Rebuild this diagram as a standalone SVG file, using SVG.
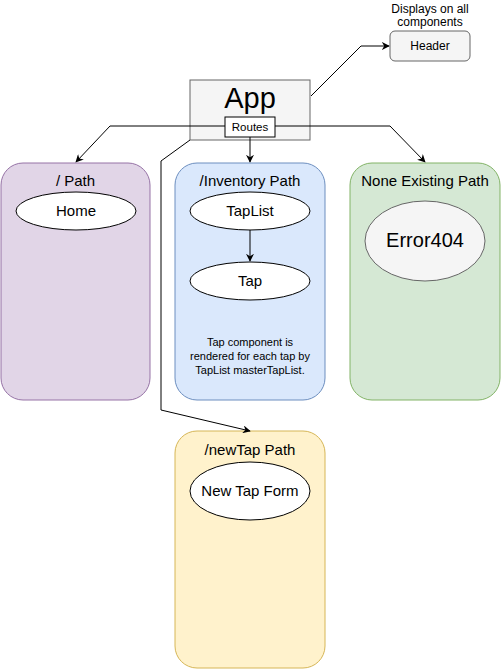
<svg xmlns="http://www.w3.org/2000/svg" width="501" height="670" viewBox="0 0 501 670">
<style>
text{font-family:"Liberation Sans",Arial,sans-serif;fill:#000;text-anchor:middle}
.conn{fill:none;stroke:#000;stroke-width:1}
.ell{fill:#fff;stroke:#000;stroke-width:1}
.t15{font-size:15px}
.t11{font-size:11px}
.t12{font-size:12px}
</style>
<defs>
<marker id="arr" viewBox="0 0 10 10" refX="9" refY="5" markerWidth="8" markerHeight="8" markerUnits="userSpaceOnUse" orient="auto">
<path d="M0,0 L10,5 L0,10 L3,5 z" fill="#000"/>
</marker>
</defs>
<rect width="501" height="670" fill="#fff"/>

<g id="path-root">
<rect x="1" y="163" width="149" height="237" rx="22" fill="#e1d5e7" stroke="#9673a6"/>
<text x="75.5" y="186" class="t15">/ Path</text>
</g>
<g id="home">
<ellipse cx="76" cy="211" rx="60" ry="19" class="ell"/>
<text x="76" y="216" class="t15">Home</text>
</g>

<g id="path-inventory">
<rect x="175" y="163" width="150" height="237" rx="22" fill="#dae8fc" stroke="#6c8ebf"/>
<text x="250" y="186" class="t15">/Inventory Path</text>
<text x="250" y="346" class="t11">Tap component is</text>
<text x="250" y="360" class="t11">rendered for each tap by</text>
<text x="250" y="374" class="t11">TapList masterTapList.</text>
</g>
<g id="taplist">
<ellipse cx="250" cy="211" rx="60" ry="19" class="ell"/>
<text x="250" y="216" class="t15">TapList</text>
</g>
<g id="tap">
<ellipse cx="250" cy="281" rx="60" ry="19" class="ell"/>
<text x="250" y="286" class="t15">Tap</text>
</g>

<g id="path-none">
<rect x="350" y="163" width="150" height="237" rx="22" fill="#d5e8d4" stroke="#82b366"/>
<text x="425" y="186" class="t15">None Existing Path</text>
</g>
<g id="error404">
<ellipse cx="425" cy="241" rx="60" ry="40" fill="#f5f5f5" stroke="#666"/>
<text x="425" y="247" style="font-size:20px">Error404</text>
</g>

<g id="path-newtap">
<rect x="175" y="431" width="150" height="237" rx="22" fill="#fff2cc" stroke="#d6b656"/>
<text x="250" y="455" class="t15">/newTap Path</text>
</g>
<g id="newtapform">
<ellipse cx="250" cy="491" rx="60" ry="29" class="ell"/>
<text x="250" y="496" class="t15">New Tap Form</text>
</g>

<g id="app">
<rect x="190" y="80" width="120" height="60" fill="#f5f5f5" stroke="#666"/>
<text x="250" y="108" style="font-size:29px">App</text>
</g>
<g id="routes">
<rect x="225" y="117" width="50" height="20" fill="#fff" stroke="#000"/>
<text x="250" y="131" style="font-size:11.5px">Routes</text>
</g>

<g id="header">
<text x="430" y="13" class="t12">Displays on all</text>
<text x="430" y="26" class="t12">components</text>
<rect x="390" y="31" width="80" height="30" rx="5" fill="#f5f5f5" stroke="#666"/>
<text x="430" y="50" class="t12">Header</text>
</g>

<g id="connectors">
<path class="conn" d="M311,96 L361,46 L389,46" marker-end="url(#arr)"/>
<path class="conn" d="M225,126 L110,126 L76,162" marker-end="url(#arr)"/>
<path class="conn" d="M250,137 L250,162" marker-end="url(#arr)"/>
<path class="conn" d="M275,126 L390,126 L425,162" marker-end="url(#arr)"/>
<path class="conn" d="M190,140 L161,161 L161,410 L250,431" marker-end="url(#arr)"/>
<path class="conn" d="M250,230 L250,261" marker-end="url(#arr)"/>
</g>
</svg>
